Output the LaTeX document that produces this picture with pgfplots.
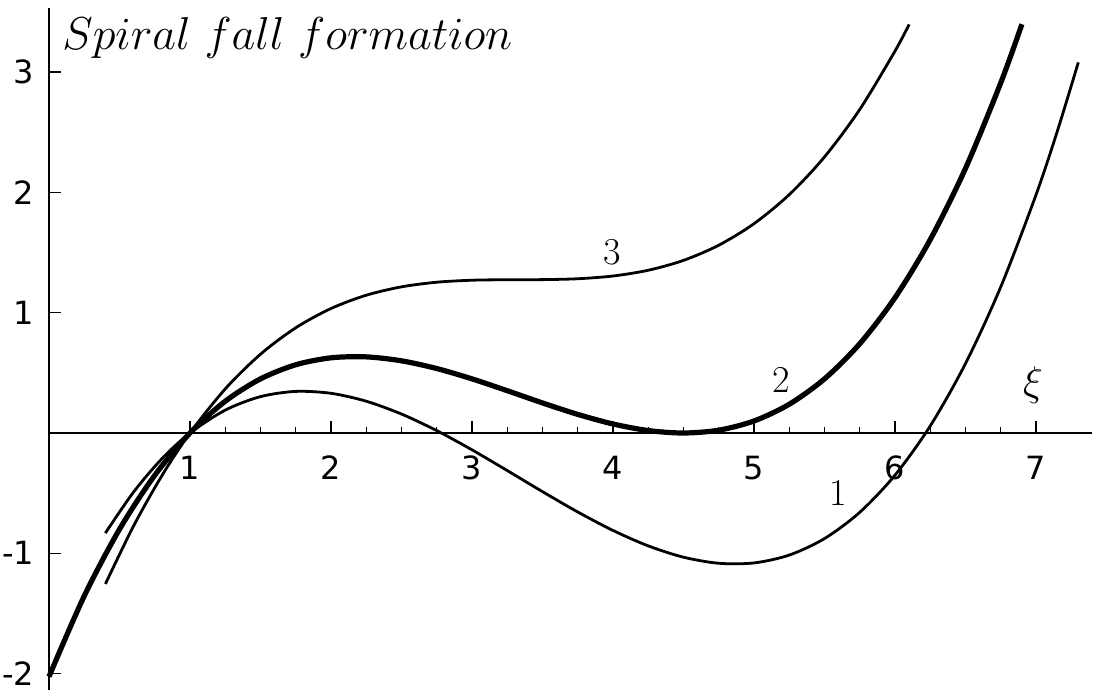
\documentclass[border=0pt]{standalone}
\usepackage{pgfplots}
\pgfplotsset{compat=1.18}
\usepackage{graphicx}
\usepackage{fontspec}
\setsansfont{DejaVu Sans}

\begin{document}
\begin{tikzpicture}
\begin{axis}[
  x=70.5pt, y=60.15pt,
  xmin=0, xmax=7.40,
  ymin=-2.14, ymax=3.53,
  axis lines=middle,
  axis line style={line width=1.3pt,-},
  xtick={1,2,3,4,5,6,7},
  xticklabels={1,2,3,4,5,6,7},
  ytick={-2,-1,1,2,3},
  yticklabels={-2,-1,1,2,3},
  minor tick num=3,
  tick align=center,
  major tick length=6pt,
  minor tick length=3pt,
  tick style={line width=0.6pt,black},
  every major x tick/.append style={yshift=3pt},
  every minor x tick/.append style={yshift=1.5pt},
  every major y tick/.append style={xshift=3pt},
  every minor y tick/.append style={xshift=1.5pt},
  tick label style={font=\sffamily\fontsize{16}{18}\selectfont},
  xticklabel style={yshift=-5pt},
  yticklabel style={xshift=-1pt},
  clip=false,
]

% curve 1
\addplot[black, line width=1.4pt, smooth] coordinates {
(0.4,-0.8316)(0.6,-0.4904)(0.8,-0.2148)(1.0,0)(1.25,0.1903)(1.5,0.3025)
(1.75,0.3459)(2.0,0.33)(2.25,0.2641)(2.5,0.1575)(2.75,0.0197)(3.0,-0.14)
(3.25,-0.3122)(3.5,-0.4875)(3.75,-0.6566)(4.0,-0.81)(4.25,-0.9384)
(4.5,-1.0325)(4.75,-1.0828)(5.0,-1.08)(5.25,-1.0147)(5.5,-0.8775)
(5.75,-0.6591)(6.0,-0.35)(6.25,0.0591)(6.5,0.5775)(6.75,1.2147)
(7.0,1.98)(7.15,2.5046)(7.3,3.0807)
};

% curve 2
\addplot[black, line width=2.6pt, smooth] coordinates {
(0,-2.025)(0.25,-1.3547)(0.5,-0.8)(0.75,-0.3516)(1.0,0)(1.25,0.2641)
(1.5,0.45)(1.75,0.5672)(2.0,0.625)(2.25,0.6328)(2.5,0.6)(2.75,0.5359)
(3.0,0.45)(3.25,0.3516)(3.5,0.25)(3.75,0.1547)(4.0,0.075)(4.25,0.0203)
(4.5,0)(4.75,0.0234)(5.0,0.1)(5.25,0.2391)(5.5,0.45)(5.75,0.7422)
(6.0,1.125)(6.25,1.6078)(6.5,2.2)(6.75,2.9109)(6.9,3.398)
};

% curve 3
\addplot[black, line width=1.4pt, smooth] coordinates {
(0.4,-1.2546)(0.6,-0.7724)(0.8,-0.3558)(1.0,0)(1.25,0.3666)(1.5,0.655)
(1.75,0.8747)(2.0,1.035)(2.25,1.1453)(2.5,1.215)(2.75,1.2534)(3.0,1.27)
(3.25,1.2741)(3.5,1.275)(3.75,1.2822)(4.0,1.305)(4.25,1.3528)(4.5,1.435)
(4.75,1.5609)(5.0,1.74)(5.25,1.9816)(5.5,2.295)(5.75,2.6897)(6.0,3.175)
(6.1,3.3966)
};

\node[anchor=base west, inner sep=0pt]
  at (axis cs:0.092,3.184)
  {\scalebox{1.112}{\fontsize{20.74}{24}\selectfont$Spiral\ fall\ formation$}};
\node[font=\fontsize{19}{20}\selectfont] at (axis cs:3.993,1.505) {3};
\node[font=\fontsize{19}{20}\selectfont] at (axis cs:5.19,0.44) {2};
\node[font=\fontsize{19}{20}\selectfont] at (axis cs:5.596,-0.499) {1};
\node[font=\fontsize{20.74}{22}\selectfont] at (axis cs:6.979,0.399) {$\xi$};

\coordinate (bl) at (axis cs:-0.3475,-2.1613);
\coordinate (tr) at (axis cs:7.4184,3.5993);
\end{axis}
\pgfresetboundingbox
\path[use as bounding box] (bl) rectangle (tr);
\end{tikzpicture}
\end{document}
